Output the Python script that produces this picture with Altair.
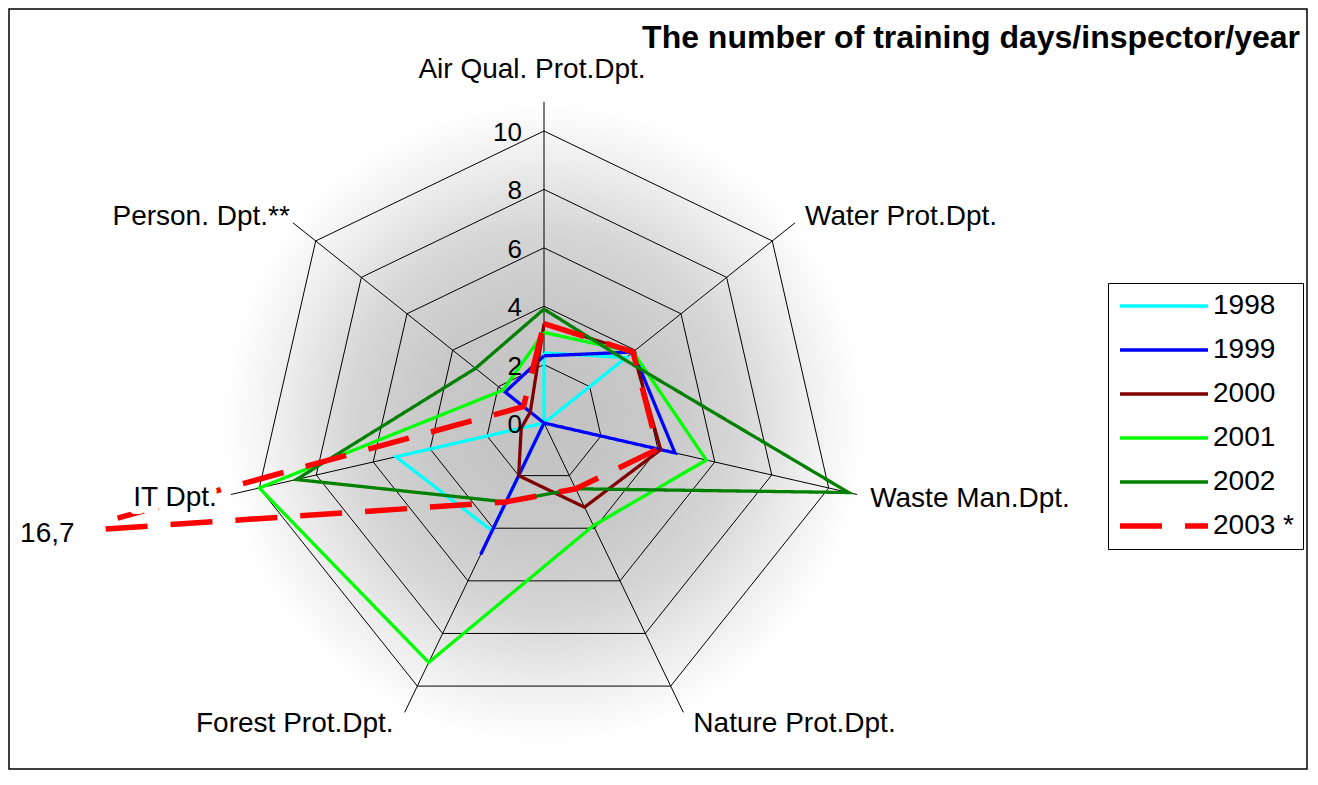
import math
import numpy as np
import pandas as pd
import altair as alt

# ---------------- data ----------------
categories = ["Air Qual. Prot.Dpt.", "Water Prot.Dpt.", "Waste Man.Dpt.",
              "Nature Prot.Dpt.", "Forest Prot.Dpt.", "IT Dpt.", "Person. Dpt.**"]
years = ["1998", "1999", "2000", "2001", "2002", "2003 *"]
v1998 = [2.4, 3.6, 0.0, 0.0, 4.1, 5.2, 0.0]
v1999 = [2.3, 3.9, 4.6, 0.0, 5.0, 0.0, 1.7]
v2000 = [3.4, 3.9, 4.1, 3.2, 2.0, 0.8, 0.6]
v2001 = [3.1, 3.9, 5.7, 3.9, 9.1, 10.0, 1.8]
v2002 = [3.9, 3.5, 10.7, 2.5, 3.0, 8.7, 3.0]
v2003 = [3.4, 3.9, 4.0, 2.5, 3.0, 16.7, 0.9]
series = [v1998, v1999, v2000, v2001, v2002, v2003]
ring_values = [2, 4, 6, 8, 10]
tick_values = [0, 2, 4, 6, 8, 10]
tick_labels = ["0", "2", "4", "6", "8", "10"]
axis_max = 11
value_label = "16,7"
value_label_series = 5
value_label_cat = 5
title_text = "The number of training days/inspector/year"

# ---------------- style ----------------
FONT = "Liberation Sans"
colors = ["#00FFFF", "#0000FF", "#800000", "#00FF00", "#008000", "#FF0000"]
dashes = [[1, 0], [1, 0], [1, 0], [1, 0], [1, 0], [42, 23]]
widths = [3.3, 3.3, 3.3, 3.3, 3.3, 5.5]
PX = 29.2                 # pixels per unit
W, H = 888, 704           # plot area
CX, CY = 444, 357         # centre inside plot area
PAD = {"left": 92, "top": 58, "right": 320, "bottom": 0}
xdom = [-CX / PX, (W - CX) / PX]
ydom = [-(H - CY) / PX, CY / PX]
label_style = [("center", -12, -24), ("left", 10, 2), ("left", 13, 13), ("left", 10, 20),
               ("right", -11, 20), ("right", -14, 12), ("right", -3, 2)]
label_halo = [False, False, False, False, False, True, False]

n = len(categories)


def pos(r, k):
    t = 2 * math.pi * k / n
    return r * math.sin(t), r * math.cos(t)


xs = alt.Scale(domain=xdom, nice=False, zero=False)
ys = alt.Scale(domain=ydom, nice=False, zero=False)
X = lambda f="x": alt.X(f"{f}:Q", scale=xs, axis=None)
Y = lambda f="y": alt.Y(f"{f}:Q", scale=ys, axis=None)

# tables
rows = []
for yi, (yr, vals) in enumerate(zip(years, series)):
    for k in range(n + 1):
        v = vals[k % n]
        x, y = pos(v, k)
        rows.append({"year": yr, "order": k, "cat": categories[k % n], "value": v, "x": x, "y": y})
sdf = pd.DataFrame(rows)

rrows = []
for r in ring_values:
    for k in range(n + 1):
        x, y = pos(r, k)
        rrows.append({"ring": r, "order": k, "x": x, "y": y})
rdf = pd.DataFrame(rrows)

sp = []
for k in range(n):
    x, y = pos(axis_max, k)
    sp.append({"x": 0.0, "y": 0.0, "x2": x, "y2": y})
spdf = pd.DataFrame(sp)

tdf = pd.DataFrame({"label": tick_labels, "x": [0.0] * len(tick_values), "y": tick_values})

bg = alt.Chart(pd.DataFrame({"x": [-axis_max], "x2": [axis_max], "y": [-axis_max], "y2": [axis_max]})).mark_rect(
    fill=alt.Gradient(gradient="radial",
                      stops=[alt.GradientStop(color="#c2c2c2", offset=0),
                             alt.GradientStop(color="#c8c8c8", offset=0.35),
                             alt.GradientStop(color="#d6d6d6", offset=0.6),
                             alt.GradientStop(color="#eeeeee", offset=0.82),
                             alt.GradientStop(color="#ffffff", offset=1)],
                      x1=0.5, y1=0.5, x2=0.5, y2=0.5, r1=0, r2=0.5),
    strokeWidth=0
).encode(x=X(), x2="x2:Q", y=Y(), y2="y2:Q")

rings = alt.Chart(rdf).mark_line(color="black", strokeWidth=1).encode(
    x=X(), y=Y(), detail="ring:N", order="order:Q")

spokes = alt.Chart(spdf).mark_rule(color="black", strokeWidth=1).encode(
    x=X(), y=Y(), x2="x2:Q", y2="y2:Q")

leg = alt.Legend(title=None, orient="none", legendX=1008, legendY=217, padding=9,
                 strokeColor="black", fillColor="white", labelFont=FONT, labelFontSize=28,
                 labelColor="black", rowPadding=16, symbolType="stroke", symbolSize=7744,
                 labelOffset=2, clipHeight=28, cornerRadius=0, labelLimit=200)

lines = alt.Chart(sdf).mark_line(clip=True, strokeJoin="miter").encode(
    x=X(), y=Y(),
    color=alt.Color("year:N", scale=alt.Scale(domain=years, range=colors), legend=leg),
    strokeDash=alt.StrokeDash("year:N", scale=alt.Scale(type="ordinal", domain=years, range=dashes), legend=leg),
    strokeWidth=alt.StrokeWidth("year:N", scale=alt.Scale(type="ordinal", domain=years, range=widths), legend=leg),
    order="order:Q")

ticks = alt.Chart(tdf).mark_text(font=FONT, fontSize=26, align="right", baseline="alphabetic",
                                 dx=-22, dy=10, color="black").encode(x=X(), y=Y(), text="label:N")

cat_layers = []
for k, c in enumerate(categories):
    x, y = pos(axis_max, k)
    a, dx, dy = label_style[k]
    base = alt.Chart(pd.DataFrame({"label": [c], "x": [x], "y": [y]}))
    if label_halo[k]:
        cat_layers.append(base.mark_text(
            font=FONT, fontSize=28, align=a, baseline="alphabetic", dx=dx, dy=dy,
            color="white", stroke="white", strokeWidth=16, strokeJoin="round"
        ).encode(x=X(), y=Y(), text="label:N"))
    cat_layers.append(base.mark_text(
        font=FONT, fontSize=28, align=a, baseline="alphabetic", dx=dx, dy=dy, color="black"
    ).encode(x=X(), y=Y(), text="label:N"))

lx, ly = pos(series[value_label_series][value_label_cat], value_label_cat)
vlab = alt.Chart(pd.DataFrame({"label": [value_label], "x": [lx], "y": [ly]})).mark_text(
    font=FONT, fontSize=28, align="right", baseline="alphabetic", dx=6, dy=10, color="black"
).encode(x=X(), y=Y(), text="label:N")

title = alt.Chart(pd.DataFrame({"t": [title_text]})).mark_text(
    font=FONT, fontSize=32, fontWeight="bold", align="right", baseline="alphabetic", color="black"
).encode(x=alt.value(1200), y=alt.value(-18), text="t:N")

frame = alt.Chart(pd.DataFrame({"a": [0]})).mark_rect(filled=False, stroke="black", strokeWidth=1.5).encode(
    x=alt.value(-91), x2=alt.value(1207), y=alt.value(-57), y2=alt.value(703))

chart = alt.layer(bg, rings, spokes, lines, ticks, *cat_layers, vlab, title, frame).properties(
    width=W, height=H, padding=PAD, autosize=alt.AutoSizeParams(type="none"),
    background="white"
).configure_view(stroke="transparent")

chart.save("out.html", embed_options={"renderer": "svg", "actions": False})
